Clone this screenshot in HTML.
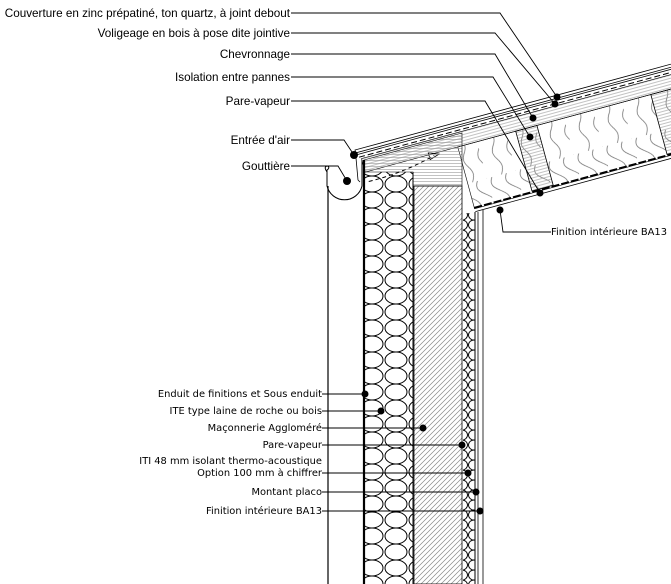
<!DOCTYPE html>
<html><head><meta charset="utf-8"><style>
html,body{margin:0;padding:0;background:#fff;width:671px;height:584px;overflow:hidden}
svg{display:block}
.t1{font-family:"Liberation Sans",sans-serif;font-size:11.7px;fill:#000}
.t2{font-family:"DejaVu Sans","Liberation Sans",sans-serif;font-size:9.9px;fill:#000}
</style></head><body>
<svg width="671" height="584" viewBox="0 0 671 584" xmlns="http://www.w3.org/2000/svg">
<defs>
<pattern id="ite" width="24" height="16" patternUnits="userSpaceOnUse">
<ellipse cx="12" cy="8" rx="11" ry="8" fill="none" stroke="#000" stroke-width="1"/>
<path d="M0 0 Q6 4 0 8 M24 0 Q18 4 24 8" fill="none" stroke="#000" stroke-width="0"/>
</pattern>
<pattern id="iti" width="12" height="10" patternUnits="userSpaceOnUse">
<ellipse cx="6" cy="5" rx="5.5" ry="5" fill="none" stroke="#000" stroke-width="0.9"/>
</pattern>
<pattern id="diag" width="5" height="5" patternUnits="userSpaceOnUse">
<path d="M0 5 L5 0 M-1 1 L1 -1 M4 6 L6 4" stroke="#888" stroke-width="0.7"/>
</pattern>
<pattern id="hor" width="4" height="3" patternUnits="userSpaceOnUse">
<path d="M0 1.5 H4" stroke="#999" stroke-width="0.6"/>
</pattern>
<pattern id="wave" width="30" height="62" patternUnits="userSpaceOnUse">
<path d="M5 0 C-5 15 25 15 15 31 C5 46 25 46 15 62 M20 0 C10 15 40 15 30 31 C20 46 40 46 30 62" fill="none" stroke="#666" stroke-width="0.7"/>
</pattern>
</defs>

<g transform="translate(355,150) rotate(-15.2)">
<rect x="0" y="0" width="360" height="3" fill="#fff" stroke="#000" stroke-width="0.8"/>
<line x1="0" y1="5" x2="360" y2="5" stroke="#000" stroke-width="0.8"/>
<line x1="2" y1="8" x2="360" y2="8" stroke="#000" stroke-width="1" stroke-dasharray="6 3"/>
<rect x="4" y="10" width="360" height="14" fill="url(#hor)" stroke="#000" stroke-width="0.6"/>
<rect x="100" y="24" width="270" height="64" fill="url(#wave)" stroke="#000" stroke-width="0.6"/>
<rect x="160" y="24" width="22" height="62" fill="url(#hor)" stroke="#000" stroke-width="0.8"/>
<rect x="300" y="24" width="22" height="62" fill="url(#hor)" stroke="#000" stroke-width="0.8"/>
<line x1="100" y1="87" x2="370" y2="87" stroke="#000" stroke-width="1.8" stroke-dasharray="8 2"/>
<line x1="100" y1="91" x2="370" y2="91" stroke="#000" stroke-width="0.8"/>
<path d="M5 34 Q40 35 75 26" fill="none" stroke="#000" stroke-dasharray="4 3"/>
<path d="M70 22 L80 26 L70 29 Z" fill="none" stroke="#000" stroke-width="0.8"/>
</g>

<polygon points="364,160 462,133 462,186 413,186 413,172 364,172" fill="url(#hor)" stroke="#000" stroke-width="0.6"/>
<rect x="365" y="172" width="48" height="412" fill="url(#ite)"/>
<rect x="414" y="186" width="48" height="398" fill="url(#diag)" stroke="#000" stroke-width="0.8"/>
<rect x="463" y="213" width="12" height="371" fill="url(#iti)"/>
<line x1="364" y1="160" x2="364" y2="584" stroke="#000" stroke-width="2.2"/>
<line x1="413" y1="172" x2="413" y2="584" stroke="#000" stroke-width="1"/>
<line x1="475" y1="212" x2="475" y2="584" stroke="#000" stroke-width="1"/>
<line x1="478" y1="212" x2="478" y2="584" stroke="#000" stroke-width="0.8"/>
<line x1="483" y1="210" x2="483" y2="584" stroke="#000" stroke-width="0.8"/>
<line x1="328" y1="186" x2="328" y2="584" stroke="#000" stroke-width="1.2"/>
<path d="M327 172 Q323 166 328 166 Q330 168 327 170 L327 186 A18 18 0 0 0 362 186 L362 160" fill="none" stroke="#000" stroke-width="1"/>
<path d="M356 158 L358 180 L360 182" fill="none" stroke="#000" stroke-width="0.8"/>

<g class="t1" text-anchor="end">
<text x="290" y="17">Couverture en zinc prépatiné, ton quartz, à joint debout</text>
<text x="290" y="37">Voligeage en bois à pose dite jointive</text>
<text x="290" y="58">Chevronnage</text>
<text x="290" y="81">Isolation entre pannes</text>
<text x="290" y="105">Pare-vapeur</text>
<text x="290" y="144">Entrée d'air</text>
<text x="290" y="170">Gouttière</text>
</g>
<g fill="none" stroke="#000" stroke-width="0.9">
<polyline points="291,13 500,13 557,97"/>
<polyline points="291,33 495,33 555,104"/>
<polyline points="291,54 495,54 533,118"/>
<polyline points="291,77 493,77 530,137"/>
<polyline points="291,101 485,101 540,193"/>
<polyline points="291,140 344,140 354,155"/>
<polyline points="291,166 338,166 347,181"/>
<polyline points="500,210 503,232 551,232"/>
</g>
<g fill="#000">
<circle cx="557" cy="97" r="3.5"/><circle cx="555" cy="104" r="3.5"/><circle cx="533" cy="118" r="3.5"/>
<circle cx="530" cy="137" r="3.5"/><circle cx="540" cy="193" r="3.5"/><circle cx="354" cy="155" r="4"/>
<circle cx="347" cy="181" r="4"/><circle cx="500" cy="210" r="3.5"/>
</g>
<text class="t2" x="551" y="235">Finition intérieure BA13</text>

<g class="t2" text-anchor="end">
<text x="322" y="397">Enduit de finitions et Sous enduit</text>
<text x="322" y="414">ITE type laine de roche ou bois</text>
<text x="322" y="431">Maçonnerie Aggloméré</text>
<text x="322" y="448">Pare-vapeur</text>
<text x="322" y="464">ITI 48 mm isolant thermo-acoustique</text>
<text x="322" y="476">Option 100 mm à chiffrer</text>
<text x="322" y="495">Montant placo</text>
<text x="322" y="514">Finition intérieure BA13</text>
</g>
<g stroke="#000" stroke-width="0.9">
<line x1="322" y1="394" x2="365" y2="394"/>
<line x1="322" y1="411" x2="381" y2="411"/>
<line x1="322" y1="428" x2="423" y2="428"/>
<line x1="322" y1="445" x2="462" y2="445"/>
<line x1="322" y1="473" x2="468" y2="473"/>
<line x1="322" y1="492" x2="476" y2="492"/>
<line x1="322" y1="511" x2="480" y2="511"/>
</g>
<g fill="#000">
<circle cx="365" cy="394" r="3.5"/><circle cx="381" cy="411" r="3.5"/><circle cx="423" cy="428" r="3.5"/>
<circle cx="462" cy="445" r="3.5"/><circle cx="468" cy="473" r="3.5"/><circle cx="476" cy="492" r="3.5"/>
<circle cx="480" cy="511" r="3.5"/>
</g>
</svg>
</body></html>
